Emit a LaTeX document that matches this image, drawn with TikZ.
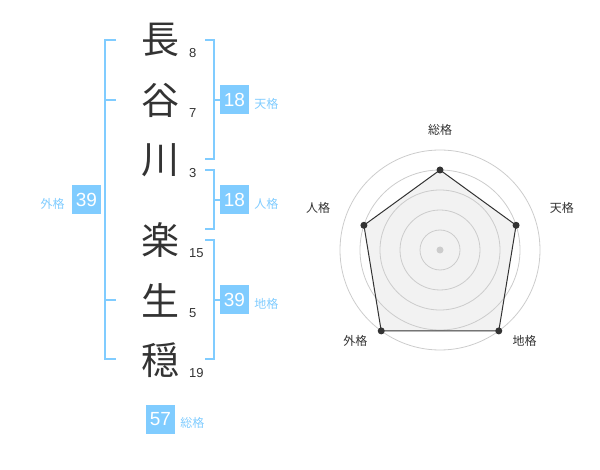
\documentclass[tikz,border=0pt]{standalone}
\usepackage{fontspec}
\setmainfont{Liberation Sans}
\newfontfamily\jpfont{Noto Sans CJK JP}
\usepackage{tikz}
\usetikzlibrary{positioning}
\usetikzlibrary{calc}
\definecolor{kakublue}{HTML}{80CCFF}
\definecolor{inkgray}{HTML}{333333}
\definecolor{ringgray}{HTML}{CCCCCC}
\definecolor{areagray}{HTML}{F2F2F2}
\tikzstyle{kanji} = [text=inkgray, font=\jpfont\fontsize{38}{38}\selectfont, inner sep=0pt]
\tikzstyle{strokes} = [text=inkgray, font=\fontsize{13}{13}\selectfont, anchor=west, inner sep=0pt]
\tikzstyle{kakubox} = [fill=kakublue, text=white, minimum size=29pt, inner sep=0pt, font=\fontsize{19}{19}\selectfont]
\tikzstyle{kakulabel} = [text=kakublue, font=\jpfont\fontsize{12}{12}\selectfont, inner sep=0pt]
\tikzstyle{bracket} = [draw=kakublue, line width=2pt]
\tikzstyle{axislabel} = [text=inkgray, font=\jpfont\fontsize{12}{12}\selectfont, inner sep=0pt]

\begin{document}
\begin{tikzpicture}[x=1pt,y=-1pt]
\useasboundingbox (0,0) rectangle (600,470);
% name and stroke counts
\foreach \ch/\n/\y/\i in {長/8/40/1, 谷/7/100/2, 川/3/160/3, 楽/15/240/4, 生/5/300/5, 穏/19/360/6} {
    \node[kanji] (c\i) at (160,\y) {\ch};
    \node[strokes] (s\i) at (189,\y+13) {\n};
}
% brackets
\draw[bracket] (116,40) -- (105,40) -- (105,359) -- (116,359);
\draw[bracket] (105,100) -- (116,100);
\draw[bracket] (105,300) -- (116,300);
\draw[bracket] (205,40) -- (214,40) -- (214,159) -- (205,159);
\draw[bracket] (214,100) -- (220,100);
\draw[bracket] (205,170) -- (214,170) -- (214,229) -- (205,229);
\draw[bracket] (214,200) -- (220,200);
\draw[bracket] (205,240) -- (214,240) -- (214,359) -- (205,359);
\draw[bracket] (214,300) -- (220,300);
% boxes
\node[kakubox] (ten) at (234.5,100) {18};
\node[kakulabel, right=5pt of ten, yshift=-3.5pt] (tenl) {天格};
\node[kakubox] (jin) at (234.5,200) {18};
\node[kakulabel, right=5pt of jin, yshift=-3.5pt] (jinl) {人格};
\node[kakubox] (chi) at (234.5,300) {39};
\node[kakulabel, right=5pt of chi, yshift=-3.5pt] (chil) {地格};
\node[kakubox] (gai) at (86.5,200) {39};
\node[kakulabel, left=7pt of gai, yshift=-3.5pt] (gail) {外格};
\node[kakubox] (sou) at (160.5,419) {57};
\node[kakulabel, right=5pt of sou, yshift=-3.5pt] (soul) {総格};
% radar
\coordinate (o) at (440,250);
\foreach \a/\r/\nm in {-90/80/p1, -18/80/p2, 54/100/p3, 126/100/p4, -162/80/p5}
    \coordinate (\nm) at ($(o)+(\a:\r)$);
\fill[areagray] (p1) -- (p2) -- (p3) -- (p4) -- (p5) -- cycle;
\foreach \r in {20,40,...,100}
    \draw[ringgray, line width=0.8pt] (o) circle[radius=\r pt];
\draw[inkgray, line width=1pt] (p1) -- (p2) -- (p3) -- (p4) -- (p5) -- cycle;
\foreach \nm in {p1,p2,p3,p4,p5}
    \fill[inkgray] (\nm) circle[radius=3.5pt];
\fill[ringgray] (o) circle[radius=3.5pt];
\foreach \a/\r/\t/\nm in {-90/120/総格/l1, -19/129/天格/l2, 47/124/地格/l3, 133/124/外格/l4, -161/129/人格/l5}
    \node[axislabel] (\nm) at ($(o)+(\a:\r)$) {\t};
\end{tikzpicture}
\end{document}
